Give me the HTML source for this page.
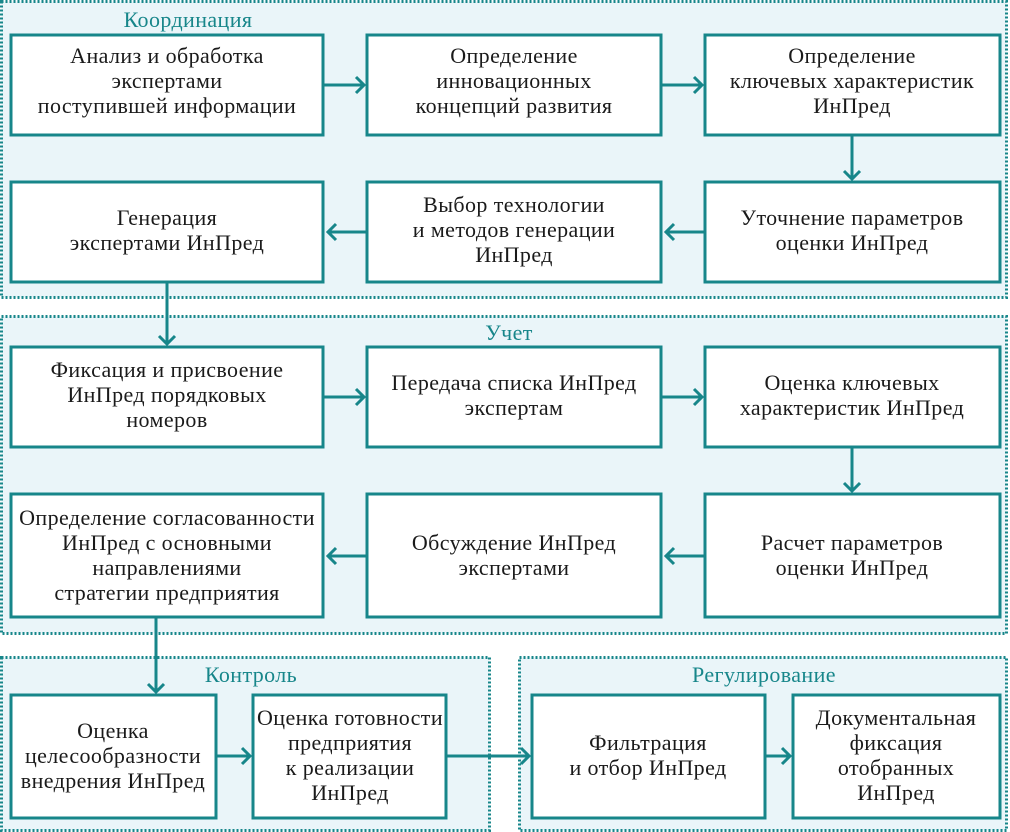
<!DOCTYPE html>
<html><head><meta charset="utf-8">
<style>
html,body{margin:0;padding:0;background:#fff;}
svg{display:block;}
text{font-family:"Liberation Serif","DejaVu Serif",serif;}
.t{font-size:22px;letter-spacing:0.4px;fill:#1a1a1a;text-anchor:middle;}
.g{font-size:22px;letter-spacing:0.4px;fill:#17868a;text-anchor:middle;}
.grp{fill:#eaf5f9;stroke:#17868a;stroke-width:3;stroke-dasharray:2 2;}
.box{fill:#fff;stroke:#17868a;stroke-width:3;}
.ln{stroke:#17868a;stroke-width:3;fill:none;}
</style></head><body>
<svg width="1010" height="832" viewBox="0 0 1010 832">
<rect class="grp" x="1.5" y="1.5" width="1005" height="296"/>
<rect class="grp" x="1.5" y="316.5" width="1005" height="317"/>
<rect class="grp" x="1.5" y="657.5" width="488" height="173"/>
<rect class="grp" x="519.5" y="657.5" width="487" height="173"/>

<text class="g" x="188" y="27">Координация</text>
<text class="g" x="509" y="340">Учет</text>
<text class="g" x="251" y="682">Контроль</text>
<text class="g" x="764" y="682">Регулирование</text>

<rect class="box" x="11" y="35" width="312" height="100"/>
<rect class="box" x="367" y="35" width="294" height="100"/>
<rect class="box" x="705" y="35" width="295" height="100"/>
<text class="t" x="167" y="63">Анализ и обработка</text>
<text class="t" x="167" y="88">экспертами</text>
<text class="t" x="167" y="113">поступившей информации</text>
<text class="t" x="514" y="63">Определение</text>
<text class="t" x="514" y="88">инновационных</text>
<text class="t" x="514" y="113">концепций развития</text>
<text class="t" x="852" y="63">Определение</text>
<text class="t" x="852" y="88">ключевых характеристик</text>
<text class="t" x="852" y="113">ИнПред</text>

<rect class="box" x="11" y="182" width="312" height="100"/>
<rect class="box" x="367" y="182" width="294" height="100"/>
<rect class="box" x="705" y="182" width="295" height="100"/>
<text class="t" x="167" y="225">Генерация</text>
<text class="t" x="167" y="250">экспертами ИнПред</text>
<text class="t" x="514" y="212">Выбор технологии</text>
<text class="t" x="514" y="237">и методов генерации</text>
<text class="t" x="514" y="262">ИнПред</text>
<text class="t" x="852" y="225">Уточнение параметров</text>
<text class="t" x="852" y="250">оценки ИнПред</text>

<rect class="box" x="11" y="347" width="312" height="100"/>
<rect class="box" x="367" y="347" width="294" height="100"/>
<rect class="box" x="705" y="347" width="295" height="100"/>
<text class="t" x="167" y="377">Фиксация и присвоение</text>
<text class="t" x="167" y="402">ИнПред порядковых</text>
<text class="t" x="167" y="427">номеров</text>
<text class="t" x="514" y="390">Передача списка ИнПред</text>
<text class="t" x="514" y="415">экспертам</text>
<text class="t" x="852" y="390">Оценка ключевых</text>
<text class="t" x="852" y="415">характеристик ИнПред</text>

<rect class="box" x="11" y="494" width="312" height="123"/>
<rect class="box" x="367" y="494" width="294" height="123"/>
<rect class="box" x="705" y="494" width="295" height="123"/>
<text class="t" x="167" y="525">Определение согласованности</text>
<text class="t" x="167" y="550">ИнПред с основными</text>
<text class="t" x="167" y="575">направлениями</text>
<text class="t" x="167" y="600">стратегии предприятия</text>
<text class="t" x="514" y="550">Обсуждение ИнПред</text>
<text class="t" x="514" y="575">экспертами</text>
<text class="t" x="852" y="550">Расчет параметров</text>
<text class="t" x="852" y="575">оценки ИнПред</text>

<rect class="box" x="11" y="695" width="205" height="123"/>
<rect class="box" x="253" y="695" width="193" height="123"/>
<rect class="box" x="532" y="695" width="233" height="123"/>
<rect class="box" x="793" y="695" width="207" height="123"/>
<text class="t" x="113" y="738">Оценка</text>
<text class="t" x="113" y="763">целесообразности</text>
<text class="t" x="113" y="788">внедрения ИнПред</text>
<text class="t" x="350" y="725">Оценка готовности</text>
<text class="t" x="350" y="750">предприятия</text>
<text class="t" x="350" y="775">к реализации</text>
<text class="t" x="350" y="800">ИнПред</text>
<text class="t" x="648" y="750">Фильтрация</text>
<text class="t" x="648" y="775">и отбор ИнПред</text>
<text class="t" x="896" y="725">Документальная</text>
<text class="t" x="896" y="750">фиксация</text>
<text class="t" x="896" y="775">отобранных</text>
<text class="t" x="896" y="800">ИнПред</text>

<g class="ln">
<path d="M323 85H364M356 77l8 8-8 8"/>
<path d="M661 85H702M694 77l8 8-8 8"/>
<path d="M852 135V179M844 171l8 8 8-8"/>
<path d="M705 232H666M674 224l-8 8 8 8"/>
<path d="M367 232H328M336 224l-8 8 8 8"/>
<path d="M167 282V344M159 336l8 8 8-8"/>
<path d="M323 397H364M356 389l8 8-8 8"/>
<path d="M661 397H702M694 389l8 8-8 8"/>
<path d="M852 447V491M844 483l8 8 8-8"/>
<path d="M705 556H666M674 548l-8 8 8 8"/>
<path d="M367 556H328M336 548l-8 8 8 8"/>
<path d="M156 617V692M148 684l8 8 8-8"/>
<path d="M216 756H250M242 748l8 8-8 8"/>
<path d="M446 756H529M521 748l8 8-8 8"/>
<path d="M765 756H790M782 748l8 8-8 8"/>
</g>
</svg>
</body></html>
